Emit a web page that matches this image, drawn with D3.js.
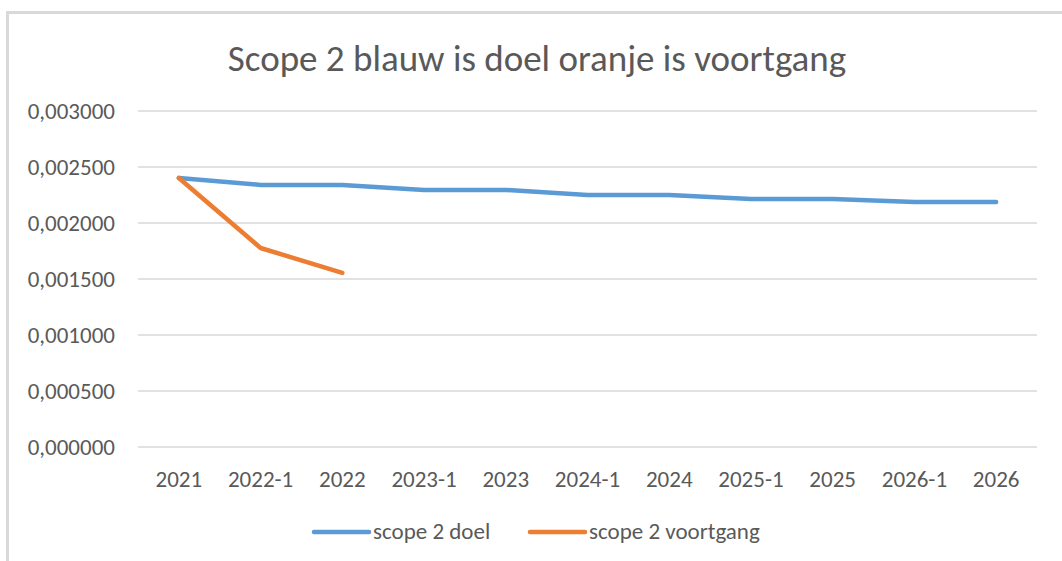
<!DOCTYPE html>
<html>
<head>
<meta charset="utf-8">
<title>Scope 2</title>
<script src="https://cdn.jsdelivr.net/npm/d3@7"></script>
<style>
  body { margin: 0; background: #fff; }
  text { font-family: Carlito, "Open Sans", "Noto Sans", sans-serif; fill: #595959; }
</style>
</head>
<body>
<div id="chart"></div>
<script>
// data
var categories = ["2021", "2022-1", "2022", "2023-1", "2023", "2024-1", "2024", "2025-1", "2025", "2026-1", "2026"];
var doelValues = [0.002402, 0.00234, 0.00234, 0.002295, 0.002295, 0.00225, 0.00225, 0.002214, 0.002214, 0.002188, 0.002188];
var voortgangValues = [0.002402, 0.001777, 0.001554];
var yTicks = [0, 0.0005, 0.001, 0.0015, 0.002, 0.0025, 0.003];
var seriesNames = ["scope 2 doel", "scope 2 voortgang"];
var colors = ["#5B9BD5", "#ED7D31"];

var W = 1062, H = 561;
var svg = d3.select("#chart").append("svg").attr("width", W).attr("height", H);

// frame of the chart area
svg.append("rect").attr("x", 7.5).attr("y", 12.5).attr("width", W + 10).attr("height", H)
  .attr("fill", "#fff").attr("stroke", "#d9d9d9").attr("stroke-width", 3);

var x = d3.scaleBand().domain(categories).range([138, 1037]);
var y = d3.scaleLinear().domain([0, 0.003]).range([447, 111]);

// gridlines
svg.append("g").selectAll("line").data(yTicks).enter().append("line")
  .attr("x1", 138).attr("x2", 1037)
  .attr("y1", function(d) { return y(d); }).attr("y2", function(d) { return y(d); })
  .attr("stroke", "#d9d9d9").attr("stroke-width", 1.3);

// y labels
svg.append("g").selectAll("text").data(yTicks).enter().append("text")
  .attr("x", 115).attr("y", function(d) { return y(d) + 8; })
  .attr("text-anchor", "end").style("font-size", "23px")
  .text(function(d) { return d.toFixed(6).replace(".", ","); });

// x labels
svg.append("g").selectAll("text").data(categories).enter().append("text")
  .attr("x", function(d) { return x(d) + x.bandwidth() / 2; }).attr("y", 487)
  .attr("text-anchor", "middle").style("font-size", "23px")
  .text(function(d) { return d; });

var line = d3.line()
  .x(function(d, i) { return x(categories[i]) + x.bandwidth() / 2; })
  .y(function(d) { return y(d); });

[doelValues, voortgangValues].forEach(function(vals, k) {
  svg.append("path").datum(vals).attr("d", line)
    .attr("fill", "none").attr("stroke", colors[k]).attr("stroke-width", 4.5)
    .attr("stroke-linecap", "round").attr("stroke-linejoin", "round");
});

// title
svg.append("text").attr("x", 537).attr("y", 71).attr("text-anchor", "middle")
  .style("font-size", "37px").text("Scope 2 blauw is doel oranje is voortgang");

// legend
var legendX = [314, 530];
seriesNames.forEach(function(name, k) {
  svg.append("line").attr("x1", legendX[k]).attr("x2", legendX[k] + 55)
    .attr("y1", 532).attr("y2", 532)
    .attr("stroke", colors[k]).attr("stroke-width", 4.5).attr("stroke-linecap", "round");
  svg.append("text").attr("x", legendX[k] + 59).attr("y", 539)
    .style("font-size", "23px").text(name);
});
</script>
</body>
</html>
